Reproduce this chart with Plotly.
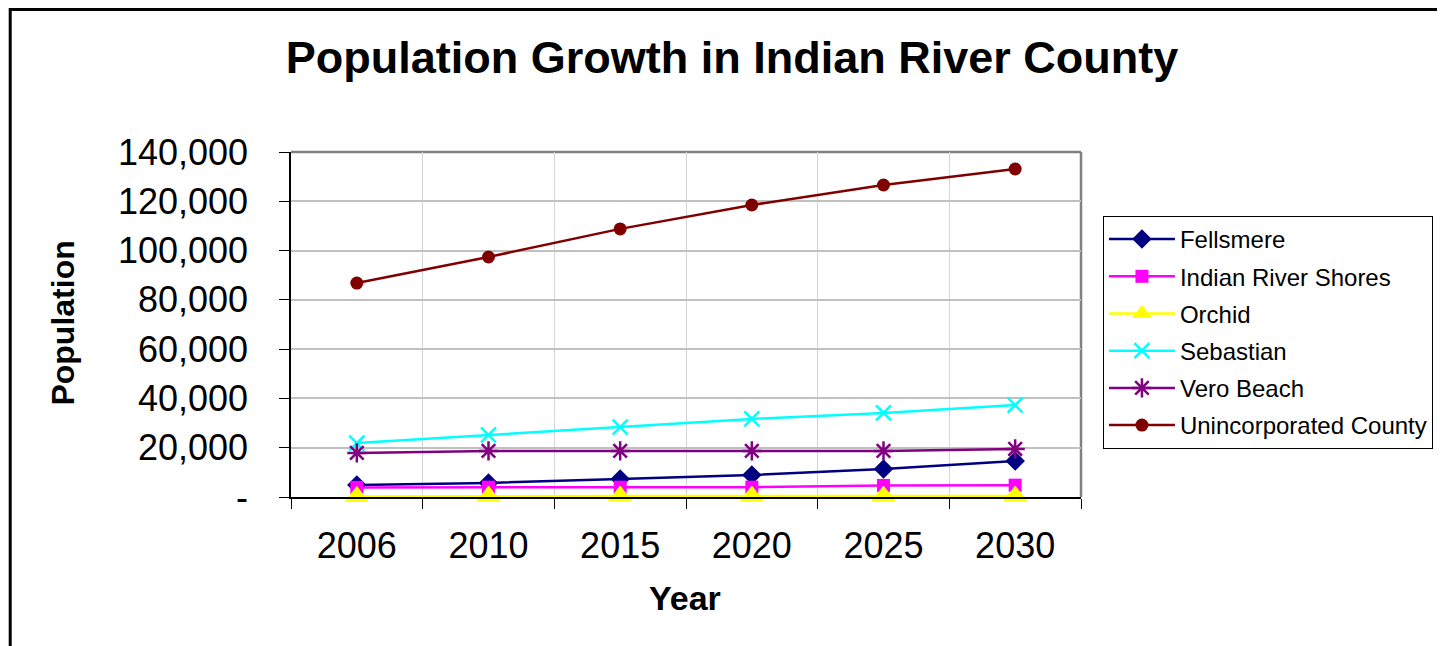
import plotly.graph_objects as go

years = ["2006", "2010", "2015", "2020", "2025", "2030"]
fellsmere = [4900, 5700, 7300, 8900, 11400, 14600]
indian_river_shores = [3900, 4000, 4000, 4000, 4700, 4800]
orchid = [200, 400, 400, 400, 400, 400]
sebastian = [21900, 25200, 28400, 31700, 34100, 37300]
vero_beach = [17900, 18700, 18700, 18700, 18700, 19500]
unincorporated = [86800, 97400, 108800, 118500, 126600, 133100]

y_tickvals = [0, 20000, 40000, 60000, 80000, 100000, 120000, 140000]
y_ticktext = ["-", "20,000", "40,000", "60,000", "80,000", "100,000", "120,000", "140,000"]

series = [
    ("Fellsmere", fellsmere, "#000080", "diamond", 15, 0),
    ("Indian River Shores", indian_river_shores, "#FF00FF", "square", 13, 0),
    ("Orchid", orchid, "#FFFF00", "triangle-up", 20, 1),
    ("Sebastian", sebastian, "#00FFFF", "x-thin", 15, 2.5),
    ("Vero Beach", vero_beach, "#800080", "asterisk", 16, 2.5),
    ("Unincorporated County", unincorporated, "#800000", "circle", 13, 0),
]

fig = go.Figure()
for name, vals, color, sym, size, mlw in series:
    fig.add_trace(go.Scatter(
        x=years, y=vals, name=name, mode="lines+markers",
        line=dict(color=color, width=2.5),
        marker=dict(symbol=sym, size=size, color=color,
                    line=dict(color=color, width=mlw)),
        legendgroup=name, cliponaxis=False,
    ))

font_family = "Liberation Sans, Arial, sans-serif"

W, H = 1437, 638
L, T, PW, PH = 283, 144, 792, 345
BOT = T + PH

fig.update_layout(
    width=W, height=H,
    margin=dict(l=L, r=W - L - PW, t=T, b=H - BOT),
    paper_bgcolor="white", plot_bgcolor="white",
    font=dict(family=font_family, color="black"),
    title=dict(text="<b>Population Growth in Indian River County</b>",
               x=724 / W, xanchor="center", y=1 - 49 / H, yanchor="middle",
               font=dict(size=45, family=font_family, color="black")),
    legend=dict(x=(1097 - L) / PW, y=(BOT - 208) / PH, xanchor="left", yanchor="top",
                bordercolor="black", borderwidth=1, bgcolor="white",
                font=dict(size=24, family=font_family),
                itemwidth=66, tracegroupgap=3, traceorder="grouped"),
    showlegend=True,
    annotations=[
        dict(text="<b>Year</b>", xref="paper", yref="paper",
             x=(678 - L) / PW, y=(BOT - 590) / PH, xanchor="center", yanchor="middle",
             showarrow=False, font=dict(size=34, family=font_family, color="black")),
        dict(text="<b>Population</b>", xref="paper", yref="paper", textangle=-90,
             x=(54 - L) / PW, y=(BOT - 315) / PH, xanchor="center", yanchor="middle",
             showarrow=False, font=dict(size=32, family=font_family, color="black")),
    ],
)

fig.update_xaxes(
    type="category", range=[-0.5, 5.5],
    showline=True, linecolor="black", linewidth=1.5,
    ticks="outside", tickson="boundaries", ticklen=10, tickcolor="black",
    showgrid=True, gridcolor="#d4d4d4", gridwidth=1,
    tickfont=dict(size=36, family=font_family),
    ticklabelstandoff=16,
)
fig.update_yaxes(
    range=[0, 140000], tickvals=y_tickvals, ticktext=y_ticktext,
    showline=True, linecolor="black", linewidth=1.5,
    ticks="outside", ticklen=10, tickcolor="black",
    showgrid=True, gridcolor="#c0c0c0", gridwidth=1.5,
    zeroline=False,
    tickfont=dict(size=36, family=font_family),
    ticklabelstandoff=24,
)

# gray plot-area frame (top and right)
fig.add_shape(type="line", xref="paper", yref="paper", x0=0, x1=1, y0=1, y1=1,
              line=dict(color="#808080", width=2.5), layer="below")
fig.add_shape(type="line", xref="paper", yref="paper", x0=1, x1=1, y0=0, y1=1,
              line=dict(color="#808080", width=2.5), layer="below")
# outer chart border
fig.add_shape(type="rect", xref="paper", yref="paper",
              x0=(1.5 - L) / PW, x1=(W + 20 - L) / PW,
              y0=(BOT - H - 20) / PH, y1=(BOT - 1.5) / PH,
              line=dict(color="black", width=3), layer="below")

fig.write_html("out.html")
